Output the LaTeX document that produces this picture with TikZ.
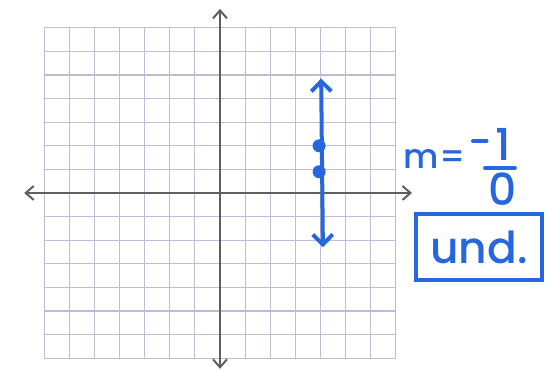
\documentclass[tikz,border=0pt]{standalone}
\usepackage{fontspec}
\setmainfont{Poppins}
\newfontfamily\penfont{Poppins}[UprightFont = * Medium]
\usetikzlibrary{arrows.meta}
\definecolor{gridlav}{RGB}{190,188,215}
\definecolor{axisgray}{RGB}{95,95,95}
\definecolor{penblue}{RGB}{38,102,222}
\tikzset{
	gridline/.style = {draw=gridlav, line width=0.55pt},
	axisline/.style = {draw=axisgray, line width=1pt, {Straight Barb[length=4pt,width=7pt]}-{Straight Barb[length=4pt,width=7pt]}},
	penline/.style = {draw=penblue, line width=2pt, line cap=round, {Straight Barb[length=5pt,width=10pt]}-{Straight Barb[length=5pt,width=10pt]}},
	penstroke/.style = {draw=penblue, line width=2pt, line cap=round},
	pendot/.style = {circle, fill=penblue, inner sep=0pt, minimum size=6.5pt},
	pentext/.style = {text=penblue, inner sep=0pt, font=\fontsize{22}{26}\selectfont\penfont},
}
\begin{document}
\begin{tikzpicture}[x=12.55pt, y=11.8pt]
	\useasboundingbox (-8.765,-7.542) rectangle (13.347,8.178);
	\foreach \i in {-7,...,7} {
		\draw[gridline] (\i,-7) -- (\i,7);
		\draw[gridline] (-7,\i) -- (7,\i);
	}
%
	\coordinate (xl) at (-7.8,0);
	\coordinate (xr) at (7.65,0);
	\coordinate (yt) at (0,7.8);
	\coordinate (yb) at (0,-7.45);
	\draw[axisline] (xl) -- (xr);
	\draw[axisline] (yb) -- (yt);
%
	\coordinate (lbot) at (4.1,-2.3);
	\coordinate (ltop) at (4.03,4.85);
	\draw[penline] (lbot) -- (ltop);
	\node[pendot] (p1) at (3.95,2) {};
	\node[pendot] (p2) at (3.95,0.9) {};
%
	\node[pentext, font=\fontsize{17}{20}\selectfont\penfont] (slope) at (8.55,1.45) {m=};
	\coordinate (minl) at (10.08,2.2);
	\coordinate (minr) at (10.62,2.2);
	\draw[penstroke] (minl) -- (minr);
	\node[pentext] (numer) at (11.3,2.05) {1};
	\node[pentext] (denom) at (11.24,0.15) {0};
	\coordinate (barl) at (10.56,1.06);
	\coordinate (barr) at (11.75,1.06);
	\draw[penstroke] (barl) -- (barr);
%
	\node[pentext, draw=penblue, line width=1.8pt, minimum width=63pt, minimum height=33pt, text depth=0pt] (undef) at (10.32,-2.3) {und.};
\end{tikzpicture}
\end{document}
